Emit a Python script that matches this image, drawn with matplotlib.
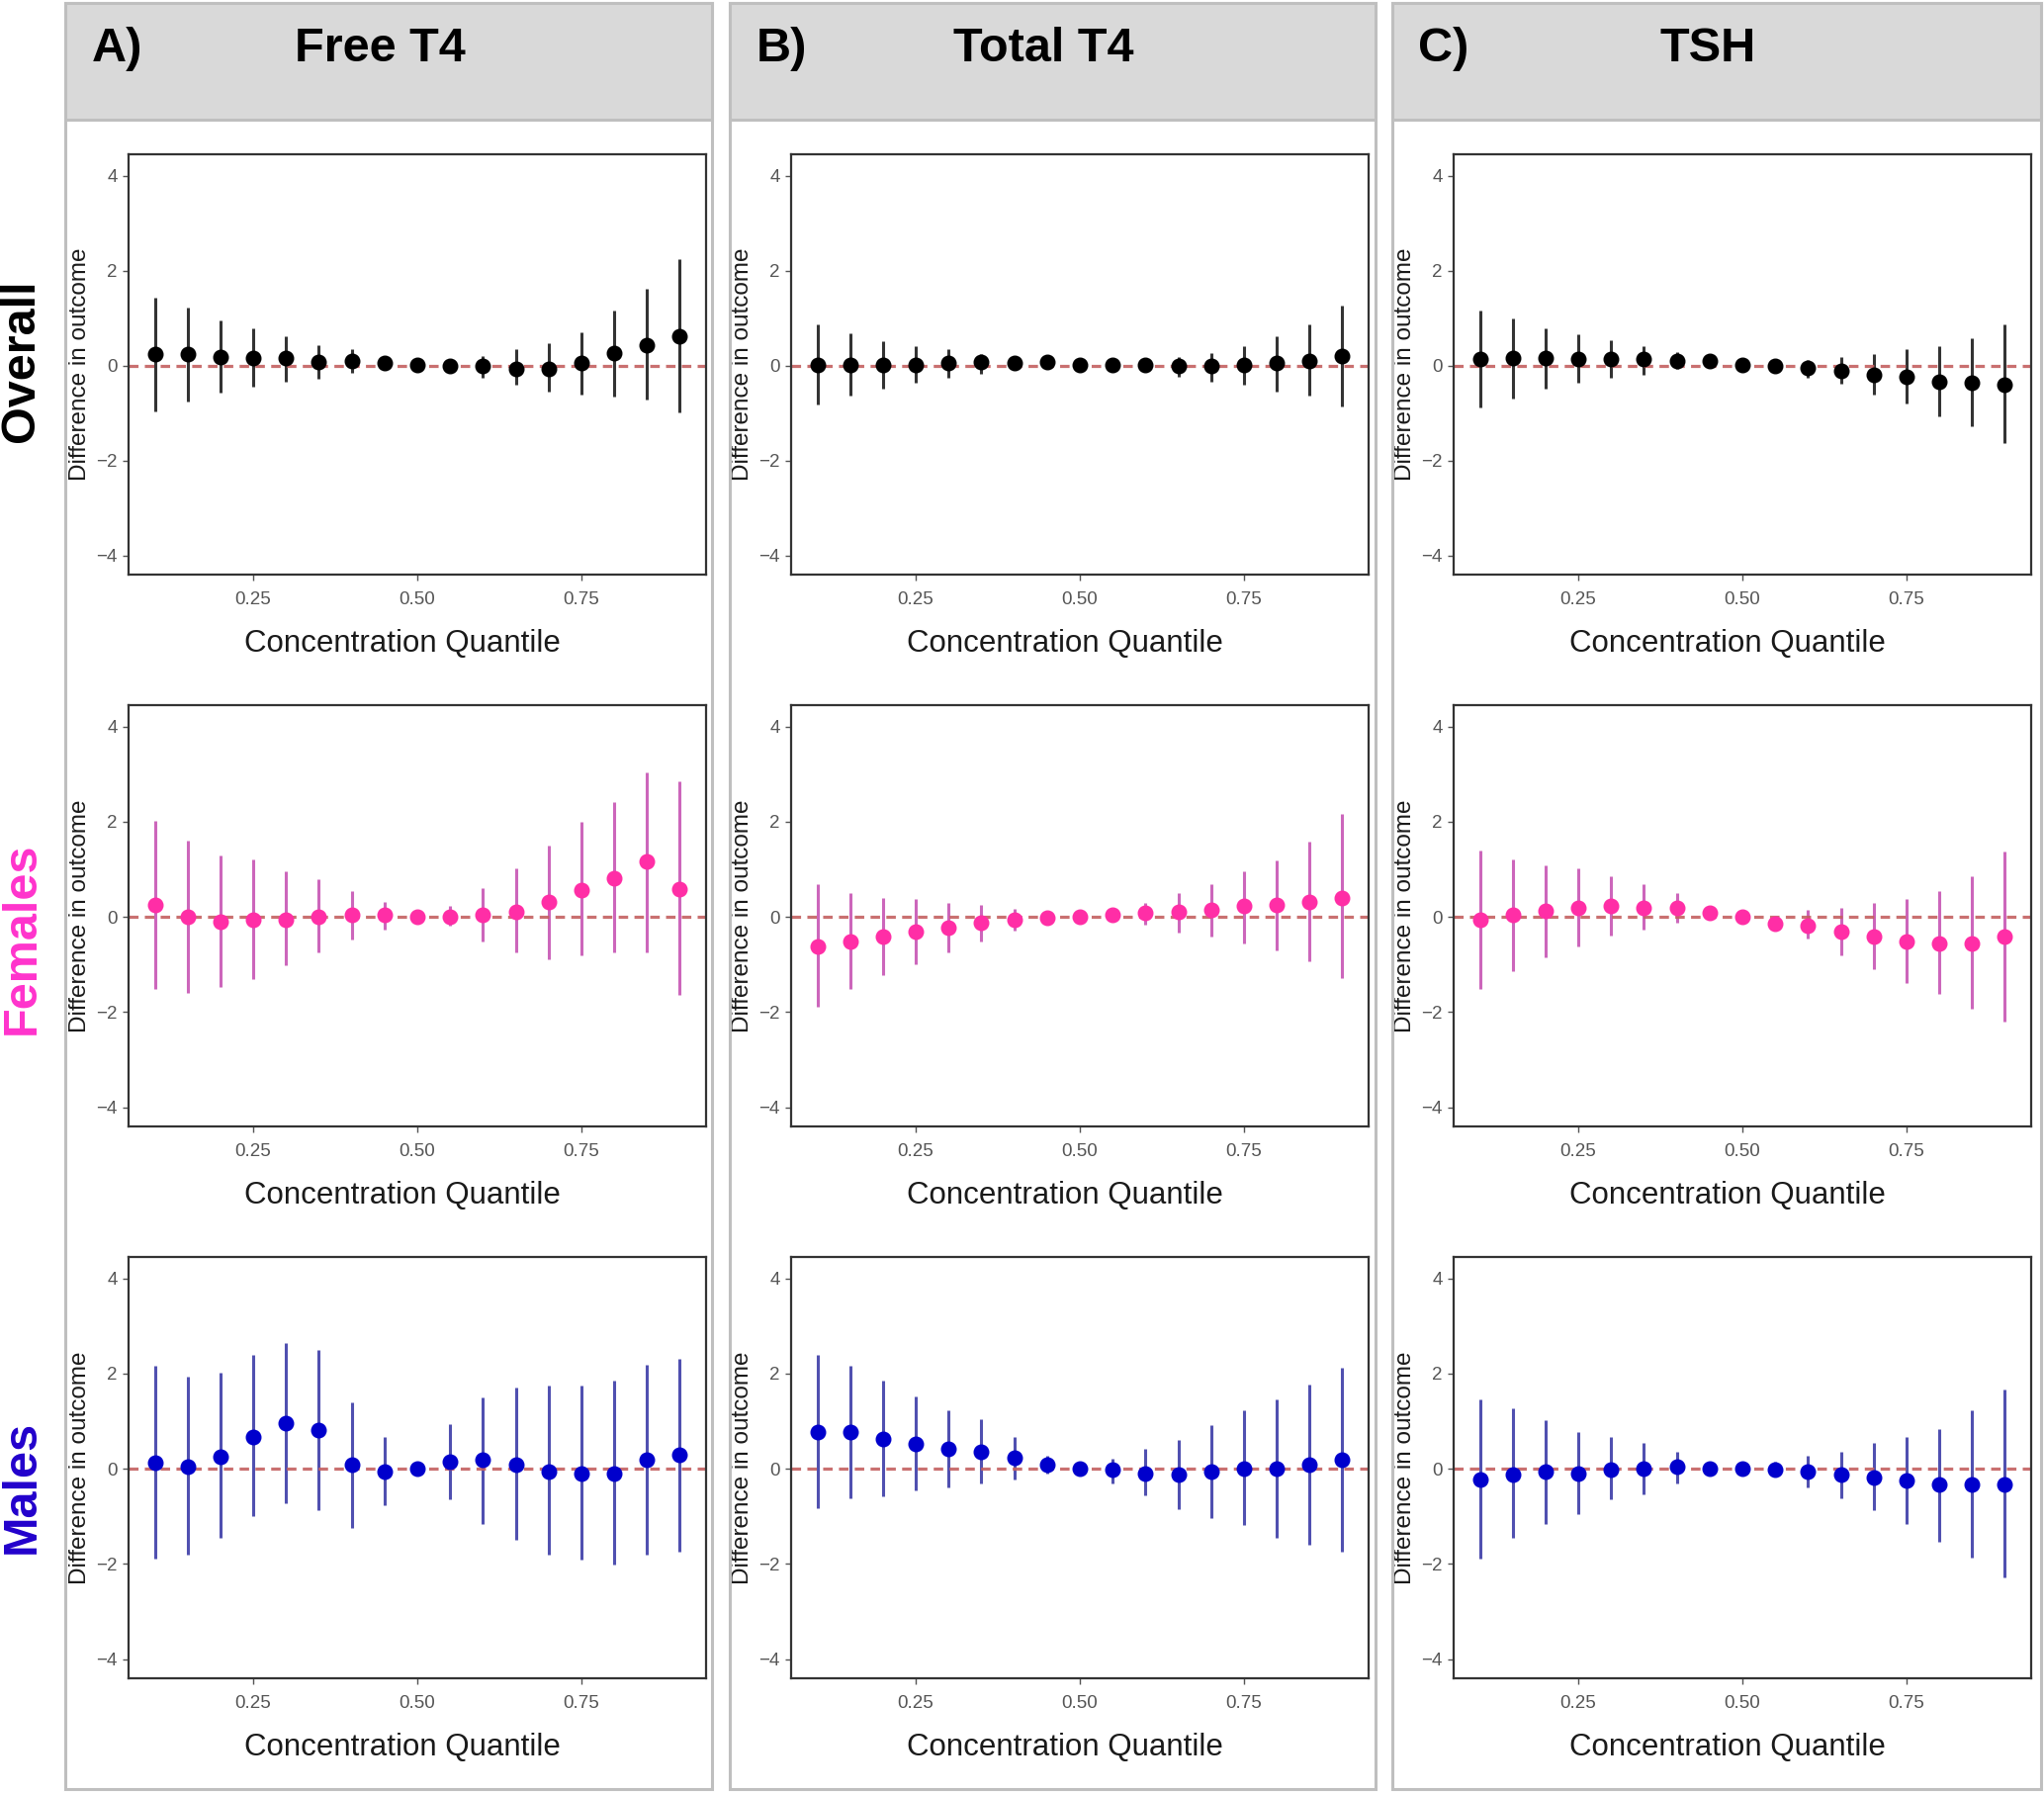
import matplotlib
matplotlib.use('Agg')
import matplotlib.pyplot as plt
from matplotlib.patches import Rectangle

plt.rcParams['font.family'] = ['Liberation Sans', 'DejaVu Sans']

W, H = 2067, 1813

quantiles = [0.10, 0.15, 0.20, 0.25, 0.30, 0.35, 0.40, 0.45, 0.50,
             0.55, 0.60, 0.65, 0.70, 0.75, 0.80, 0.85, 0.90]
hormones = ['Free T4', 'Total T4', 'TSH']
panel_letters = ['A)', 'B)', 'C)']
groups = ['Overall', 'Females', 'Males']

# Free T4
ft4_overall_est = [0.24, 0.24, 0.19, 0.16, 0.16, 0.07, 0.09, 0.06, 0.02, -0.01, -0.01, -0.06, -0.06, 0.06, 0.27, 0.44, 0.61]
ft4_overall_lo = [-0.96, -0.75, -0.57, -0.44, -0.34, -0.27, -0.16, -0.06, -0.10, -0.14, -0.26, -0.41, -0.54, -0.61, -0.66, -0.71, -0.99]
ft4_overall_hi = [1.44, 1.23, 0.96, 0.79, 0.61, 0.44, 0.34, 0.18, 0.11, 0.11, 0.20, 0.34, 0.48, 0.71, 1.16, 1.62, 2.25]
ft4_females_est = [0.25, 0.00, -0.11, -0.06, -0.06, 0.00, 0.04, 0.04, 0.00, 0.00, 0.04, 0.11, 0.32, 0.57, 0.81, 1.16, 0.59]
ft4_females_lo = [-1.52, -1.59, -1.48, -1.31, -1.02, -0.75, -0.48, -0.26, -0.10, -0.19, -0.51, -0.75, -0.88, -0.81, -0.75, -0.75, -1.64]
ft4_females_hi = [2.01, 1.61, 1.29, 1.20, 0.95, 0.79, 0.54, 0.32, 0.10, 0.24, 0.61, 1.02, 1.50, 2.00, 2.41, 3.04, 2.84]
ft4_males_est = [0.12, 0.05, 0.25, 0.67, 0.95, 0.81, 0.09, -0.06, 0.01, 0.15, 0.20, 0.09, -0.06, -0.09, -0.09, 0.20, 0.29]
ft4_males_lo = [-1.88, -1.80, -1.45, -1.00, -0.73, -0.87, -1.24, -0.76, -0.10, -0.63, -1.15, -1.50, -1.80, -1.91, -2.01, -1.80, -1.74]
ft4_males_hi = [2.16, 1.94, 2.01, 2.39, 2.65, 2.50, 1.40, 0.67, 0.12, 0.94, 1.49, 1.70, 1.74, 1.74, 1.85, 2.18, 2.32]

# Total T4
tt4_overall_est = [0.02, 0.02, 0.02, 0.02, 0.06, 0.07, 0.06, 0.07, 0.02, 0.02, 0.02, -0.01, -0.01, 0.02, 0.06, 0.09, 0.20]
tt4_overall_lo = [-0.82, -0.64, -0.48, -0.36, -0.26, -0.18, -0.05, -0.04, -0.09, -0.10, -0.09, -0.23, -0.34, -0.41, -0.54, -0.64, -0.87]
tt4_overall_hi = [0.86, 0.69, 0.51, 0.41, 0.34, 0.24, 0.14, 0.16, 0.11, 0.14, 0.12, 0.19, 0.26, 0.41, 0.62, 0.86, 1.26]
tt4_females_est = [-0.62, -0.52, -0.41, -0.31, -0.23, -0.13, -0.05, -0.02, 0.01, 0.05, 0.09, 0.11, 0.16, 0.23, 0.26, 0.32, 0.39]
tt4_females_lo = [-1.89, -1.52, -1.23, -0.99, -0.75, -0.52, -0.29, -0.13, -0.09, -0.06, -0.16, -0.32, -0.41, -0.56, -0.71, -0.93, -1.29]
tt4_females_hi = [0.68, 0.50, 0.39, 0.37, 0.29, 0.25, 0.18, 0.07, 0.09, 0.14, 0.30, 0.50, 0.70, 0.95, 1.19, 1.59, 2.16]
tt4_males_est = [0.78, 0.78, 0.63, 0.52, 0.43, 0.36, 0.23, 0.09, 0.01, -0.02, -0.09, -0.13, -0.06, 0.01, 0.01, 0.09, 0.20]
tt4_males_lo = [-0.82, -0.62, -0.57, -0.46, -0.40, -0.30, -0.22, -0.11, -0.08, -0.31, -0.55, -0.84, -1.04, -1.19, -1.44, -1.60, -1.75]
tt4_males_hi = [2.39, 2.17, 1.85, 1.53, 1.23, 1.05, 0.67, 0.28, 0.09, 0.21, 0.41, 0.61, 0.91, 1.24, 1.45, 1.77, 2.12]

# TSH
tsh_overall_est = [0.13, 0.16, 0.16, 0.13, 0.13, 0.13, 0.09, 0.09, 0.02, -0.01, -0.05, -0.12, -0.19, -0.24, -0.34, -0.37, -0.41]
tsh_overall_lo = [-0.88, -0.69, -0.48, -0.36, -0.26, -0.19, -0.07, -0.01, -0.07, -0.12, -0.25, -0.39, -0.61, -0.79, -1.06, -1.27, -1.64]
tsh_overall_hi = [1.16, 1.00, 0.79, 0.66, 0.54, 0.41, 0.29, 0.18, 0.11, 0.07, 0.11, 0.19, 0.24, 0.34, 0.41, 0.57, 0.86]
tsh_females_est = [-0.06, 0.04, 0.12, 0.19, 0.23, 0.19, 0.19, 0.09, 0.00, -0.14, -0.18, -0.31, -0.41, -0.52, -0.56, -0.56, -0.41]
tsh_females_lo = [-1.52, -1.14, -0.84, -0.61, -0.39, -0.26, -0.12, -0.06, -0.09, -0.29, -0.46, -0.81, -1.09, -1.38, -1.62, -1.93, -2.20]
tsh_females_hi = [1.39, 1.20, 1.09, 1.02, 0.86, 0.68, 0.50, 0.23, 0.09, 0.00, 0.14, 0.19, 0.29, 0.37, 0.54, 0.86, 1.37]
tsh_males_est = [-0.23, -0.13, -0.06, -0.09, -0.02, 0.01, 0.05, 0.01, 0.01, -0.02, -0.06, -0.13, -0.19, -0.24, -0.33, -0.33, -0.33]
tsh_males_lo = [-1.88, -1.46, -1.16, -0.95, -0.65, -0.53, -0.30, -0.13, -0.11, -0.17, -0.39, -0.62, -0.87, -1.15, -1.53, -1.86, -2.28]
tsh_males_hi = [1.45, 1.27, 1.03, 0.78, 0.67, 0.54, 0.36, 0.16, 0.12, 0.16, 0.28, 0.36, 0.54, 0.67, 0.84, 1.23, 1.66]

panels = {
    ('Overall', 'Free T4'): (ft4_overall_est, ft4_overall_lo, ft4_overall_hi),
    ('Females', 'Free T4'): (ft4_females_est, ft4_females_lo, ft4_females_hi),
    ('Males', 'Free T4'): (ft4_males_est, ft4_males_lo, ft4_males_hi),
    ('Overall', 'Total T4'): (tt4_overall_est, tt4_overall_lo, tt4_overall_hi),
    ('Females', 'Total T4'): (tt4_females_est, tt4_females_lo, tt4_females_hi),
    ('Males', 'Total T4'): (tt4_males_est, tt4_males_lo, tt4_males_hi),
    ('Overall', 'TSH'): (tsh_overall_est, tsh_overall_lo, tsh_overall_hi),
    ('Females', 'TSH'): (tsh_females_est, tsh_females_lo, tsh_females_hi),
    ('Males', 'TSH'): (tsh_males_est, tsh_males_lo, tsh_males_hi),
}

label_colors = {'Overall': '#000000', 'Females': '#FF33CC', 'Males': '#2200CC'}
point_colors = {'Overall': '#000000', 'Females': '#FF2EA6', 'Males': '#0000CC'}
bar_colors = {'Overall': '#333333', 'Females': '#CC66BB', 'Males': '#5050B0'}

# layout in pixels
col_x = [(66, 720), (738, 1391), (1408, 2064)]
ax_x = [(130, 714), (800, 1384), (1470, 2054)]
row_y = [(156, 581), (713, 1139), (1271, 1697)]
row_label_y = [365, 949, 1503]
header_top, header_bot, box_bot = 3, 121, 1809


def fx(x):
    return x / W


def fy(y):
    return 1 - y / H


fig = plt.figure(figsize=(W / 100, H / 100), dpi=100)
fig.patch.set_facecolor('white')

for c, hormone in enumerate(hormones):
    x0, x1 = col_x[c]
    fig.add_artist(Rectangle((fx(x0), fy(box_bot)), fx(x1 - x0), (box_bot - header_top) / H,
                             transform=fig.transFigure, fill=False, ec='#BFBFBF', lw=2.2))
    fig.add_artist(Rectangle((fx(x0), fy(header_bot)), fx(x1 - x0), (header_bot - header_top) / H,
                             transform=fig.transFigure, fc='#D9D9D9', ec='#BFBFBF', lw=2.2))
    fig.text(fx(x0 + 52), fy(50), panel_letters[c], fontsize=35, fontweight='bold',
             ha='center', va='center')
    fig.text(fx((x0 + x1) / 2 - 9), fy(50), hormone, fontsize=35, fontweight='bold',
             ha='center', va='center')

for r, group in enumerate(groups):
    fig.text(fx(22), fy(row_label_y[r]), group, rotation=90, fontsize=35, fontweight='bold',
             color=label_colors[group], ha='center', va='center')
    for c, hormone in enumerate(hormones):
        a0, a1 = ax_x[c]
        t0, t1 = row_y[r]
        ax = fig.add_axes([fx(a0), fy(t1), fx(a1 - a0), (t1 - t0) / H])
        est, lo, hi = panels[(group, hormone)]
        ax.vlines(quantiles, lo, hi, colors=bar_colors[group], lw=2.2, zorder=2)
        ax.axhline(0, color='#C46060', ls=(0, (3, 2)), lw=2.3, zorder=2.5, alpha=0.9)
        ax.plot(quantiles, est, 'o', ms=10.5, color=point_colors[group], zorder=3)
        ax.set_xlim(0.06, 0.94)
        ax.set_ylim(-4.4, 4.45)
        ax.set_xticks([0.25, 0.50, 0.75])
        ax.set_xticklabels(['0.25', '0.50', '0.75'])
        ax.set_yticks([-4, -2, 0, 2, 4])
        ax.tick_params(colors='#555555', labelsize=13.5, length=4, width=1, pad=4)
        ax.tick_params(axis='x', pad=8)
        for s in ax.spines.values():
            s.set_color('#333333')
            s.set_linewidth(1.6)
        ax.set_ylabel('Difference in outcome', fontsize=17.5, color='#1A1A1A', labelpad=4)
        ax.set_xlabel('Concentration Quantile', fontsize=22.5, color='#1A1A1A')
        ax.xaxis.set_label_coords(0.475, -0.13)

fig.savefig('out.png', dpi=100, facecolor='white')
